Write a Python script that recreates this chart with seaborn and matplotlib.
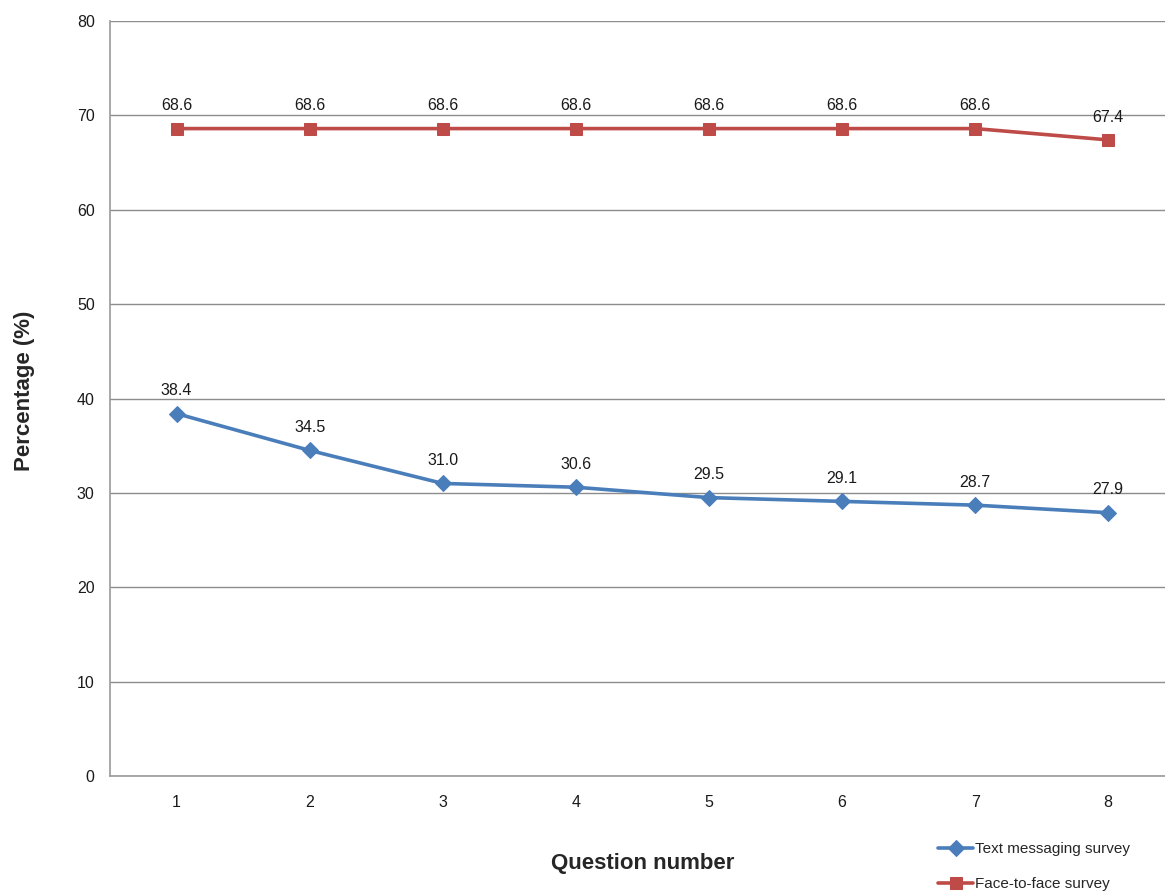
import matplotlib
matplotlib.use("Agg")
import matplotlib.pyplot as plt
import numpy as np
import pandas as pd
import seaborn as sns

questions = [1, 2, 3, 4, 5, 6, 7, 8]
text_survey = [38.4, 34.5, 31.0, 30.6, 29.5, 29.1, 28.7, 27.9]
face_survey = [68.6, 68.6, 68.6, 68.6, 68.6, 68.6, 68.6, 67.4]
series_names = ["Text messaging survey", "Face-to-face survey"]

sns.set_style("white")
plt.rcParams['font.family'] = ['Liberation Sans', 'DejaVu Sans']

fig = plt.figure(figsize=(11.65, 8.93), dpi=100)
ax = fig.add_axes([0.0944, 0.131, 0.914, 0.8455])

blue = "#4A7EBB"
red = "#BE4B48"

sns.lineplot(x=questions, y=text_survey, ax=ax, color=blue, lw=2.6,
             marker="D", markersize=8, markeredgecolor=blue, label=series_names[0])
sns.lineplot(x=questions, y=face_survey, ax=ax, color=red, lw=2.6,
             marker="s", markersize=9, markeredgecolor=red, label=series_names[1])

for q, v in zip(questions, text_survey):
    ax.annotate(f"{v:.1f}", (q, v), xytext=(0, 11), textcoords="offset points",
                ha="center", va="bottom", fontsize=11.5, color="#1a1a1a")
for q, v in zip(questions, face_survey):
    ax.annotate(f"{v:.1f}", (q, v), xytext=(0, 11), textcoords="offset points",
                ha="center", va="bottom", fontsize=11.5, color="#1a1a1a")

ax.set_xlim(0.5, 8.5)
ax.set_ylim(0, 80)
ax.set_yticks(np.arange(0, 81, 10))
ax.set_xticks(questions)
ax.yaxis.grid(True, color="#8c8c8c", lw=1)
ax.xaxis.grid(False)
ax.tick_params(axis="both", length=0, labelsize=11.5, colors="#1a1a1a")
ax.tick_params(axis="y", pad=11)
ax.tick_params(axis="x", pad=14)
for side in ["top", "right"]:
    ax.spines[side].set_visible(False)
for side in ["left", "bottom"]:
    ax.spines[side].set_color("#9a9a9a")
    ax.spines[side].set_linewidth(1.2)

ax.set_xlabel("Question number", fontsize=16, fontweight="bold", va="center")
ax.set_ylabel("Percentage (%)", fontsize=16, fontweight="bold", va="center")
ax.xaxis.set_label_coords(0.5, -0.116)
ax.yaxis.set_label_coords(-0.08, 0.51)

ax.legend(loc="upper left", bbox_to_anchor=(0.8, 0.064), bbox_transform=fig.transFigure,
          frameon=False, fontsize=11, labelspacing=1.4, handlelength=2.3,
          handletextpad=0.1, borderaxespad=0)

fig.savefig("out.png", dpi=100)
